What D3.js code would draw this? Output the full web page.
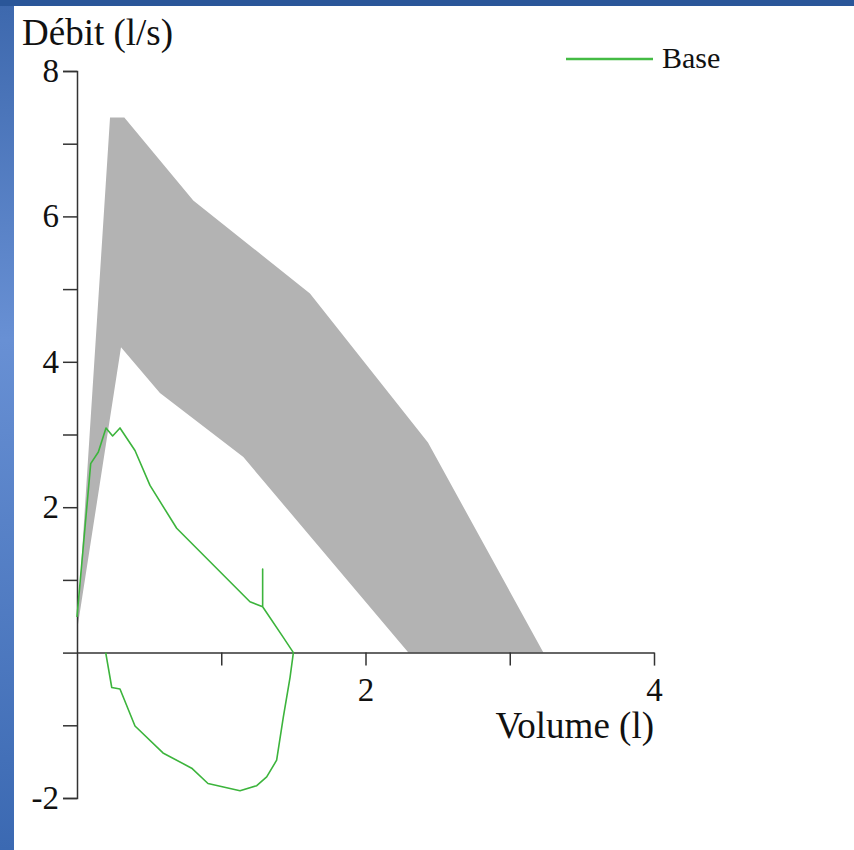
<!DOCTYPE html>
<html>
<head>
<meta charset="utf-8">
<script src="https://cdn.jsdelivr.net/npm/d3@7"></script>
<style>
  body { margin: 0; }
  svg { display: block; }
</style>
</head>
<body>
<svg id="drawsvg" width="854" height="850"></svg>
<script>
// normal band, upper and lower limits (volume l, flow l/s)
var upperVol  = [0, 0.229, 0.328, 0.806, 1.615, 2.433, 3.233];
var upperFlow = [0.3, 7.36, 7.36, 6.22, 4.94, 2.89, 0];
var lowerVol  = [0, 0.305, 0.575, 1.153, 2.297];
var lowerFlow = [0.3, 4.20, 3.57, 2.69, 0];

// "Base" flow-volume loop
var baseVol  = [0, 0.095, 0.148, 0.201, 0.247, 0.298, 0.402, 0.506, 0.691, 1.199, 1.287, 1.287, 1.287,
                1.430, 1.500, 1.477, 1.430, 1.384, 1.315, 1.246, 1.130, 0.908, 0.795, 0.596, 0.402,
                0.298, 0.241, 0.199];
var baseFlow = [0.49, 2.60, 2.76, 3.09, 2.98, 3.09, 2.78, 2.30, 1.71, 0.70, 0.63, 1.15, 0.63,
                0.21, 0, -0.34, -0.89, -1.48, -1.71, -1.83, -1.90, -1.80, -1.59, -1.38, -1.01,
                -0.50, -0.48, 0];

var xTicks = [1, 2, 3, 4];
var xLabels = [2, 4];
var yTicks = [-2, -1, 0, 1, 2, 3, 4, 5, 6, 7, 8];
var yLabels = [8, 6, 4, 2, -2];

var seriesName = 'Base';
var yTitle = 'Débit (l/s)';
var xTitle = 'Volume (l)';

var svg = d3.select('#drawsvg');
var font = '"Liberation Serif", "Times New Roman", serif';

// slide background
var defs = svg.append('defs');
var grad = defs.append('linearGradient')
  .attr('id', 'bg')
  .attr('x1', 0).attr('y1', 0).attr('x2', 0).attr('y2', 1);
grad.append('stop').attr('offset', '0%').attr('stop-color', '#3d68ad');
grad.append('stop').attr('offset', '40%').attr('stop-color', '#6890d4');
grad.append('stop').attr('offset', '100%').attr('stop-color', '#3b69b2');

svg.append('rect')
  .attr('width', 854).attr('height', 850)
  .style('fill', 'url(#bg)');
svg.append('rect')
  .attr('width', 854).attr('height', 6)
  .style('fill', '#2a5699');
svg.append('rect')
  .attr('x', 14).attr('y', 6)
  .attr('width', 840).attr('height', 844)
  .style('fill', '#ffffff');

var x = d3.scaleLinear().domain([0, 4]).range([77, 654]);
var y = d3.scaleLinear().domain([-2, 8]).range([798, 71]);

// grey band
var bandPts = [];
for (var i = 0; i < upperVol.length; i++) bandPts.push([upperVol[i], upperFlow[i]]);
for (var j = lowerVol.length - 1; j >= 0; j--) bandPts.push([lowerVol[j], lowerFlow[j]]);

var line = d3.line()
  .x(function(d){ return x(d[0]); })
  .y(function(d){ return y(d[1]); });

svg.append('path')
  .attr('d', line(bandPts) + 'Z')
  .style('fill', '#b3b3b3')
  .style('stroke', 'none');

// axes
var yAxis = d3.axisLeft(y)
  .tickValues(yTicks)
  .tickSize(14)
  .tickSizeOuter(14)
  .tickPadding(4)
  .tickFormat(function(d){ return yLabels.indexOf(d) >= 0 ? d : ''; });

var gy = svg.append('g')
  .attr('transform', 'translate(' + x(0) + ',0)')
  .call(yAxis);

var xAxis = d3.axisBottom(x)
  .tickValues(xTicks)
  .tickSize(13)
  .tickSizeOuter(0)
  .tickPadding(12)
  .tickFormat(function(d){ return xLabels.indexOf(d) >= 0 ? d : ''; });

var gx = svg.append('g')
  .attr('transform', 'translate(0,' + y(0) + ')')
  .call(xAxis);

[gx, gy].forEach(function(g){
  g.attr('font-family', font)
   .attr('font-size', 33);
  g.selectAll('path, line')
    .style('stroke', '#333')
    .style('stroke-width', '1.5px');
  g.selectAll('text')
    .attr('font-family', font)
    .style('font-family', font)
    .style('font-size', '33px')
    .style('fill', '#111');
});

// base loop
var basePts = baseVol.map(function(v, k){ return [v, baseFlow[k]]; });
svg.append('path')
  .attr('d', line(basePts))
  .style('fill', 'none')
  .style('stroke', '#3cb43c')
  .style('stroke-width', '1.6px')
  .style('stroke-linejoin', 'round');

// titles
svg.append('text')
  .text(yTitle)
  .attr('x', 22)
  .attr('y', 45)
  .style('font-family', font)
  .style('font-size', '37px')
  .style('fill', '#111');

svg.append('text')
  .text(xTitle)
  .attr('x', 654)
  .attr('y', 738)
  .attr('text-anchor', 'end')
  .style('font-family', font)
  .style('font-size', '37px')
  .style('fill', '#111');

// legend
svg.append('line')
  .attr('x1', 566).attr('x2', 653)
  .attr('y1', 59).attr('y2', 59)
  .style('stroke', '#44bb44')
  .style('stroke-width', '2.5px');

svg.append('text')
  .text(seriesName)
  .attr('x', 662)
  .attr('y', 68)
  .style('font-family', font)
  .style('font-size', '30px')
  .style('fill', '#111');
</script>
</body>
</html>
